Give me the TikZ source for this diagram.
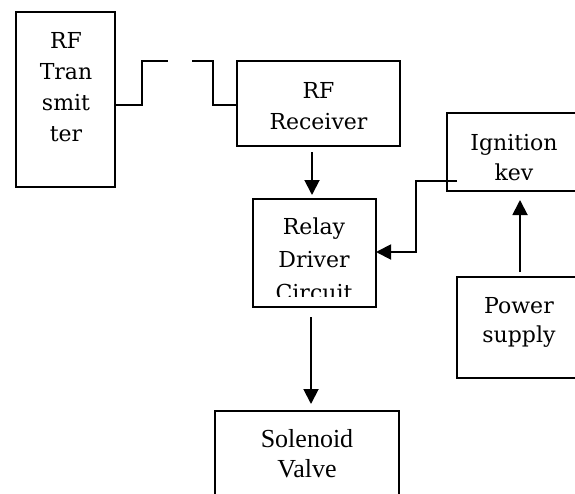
\documentclass[tikz,border=0pt]{standalone}
\usepackage{fontspec}
\setmainfont{Liberation Serif}
\newfontfamily\camfont{DejaVu Serif}
\usetikzlibrary{arrows.meta,calc}
\tikzset{
  blk/.style={draw=black, line width=1.4pt, minimum width=#1, inner sep=0pt, outer sep=0pt},
  lbl/.style={anchor=base, inner sep=0pt, text width=140pt, align=center, font={\camfont\fontsize{22}{#1}\selectfont}},
  arr/.style={line width=1.9pt, -{Triangle[length=15pt,width=15pt]}},
  wire/.style={line width=1.4pt}
}
\begin{document}
\begin{tikzpicture}[x=1pt,y=-1pt]
\useasboundingbox (0,0) rectangle (575,493);
\clip (0,0) rectangle (575,493);
% boxes
\node[blk=99pt, minimum height=175pt] (tx) at (65.5,99.5) {};
\node[blk=163pt, minimum height=85pt] (rx) at (318.5,103.5) {};
\node[blk=123pt, minimum height=108pt] (rly) at (314.5,253) {};
\node[blk=150pt, minimum height=78pt] (ign) at (522,152) {};
\node[blk=140pt, minimum height=101pt] (pw) at (527,327.5) {};
\node[blk=184pt, minimum height=110pt] (sol) at (307,466) {};
% texts
\node[lbl=31.3pt] (txt) at (66,48) {RF\\Tran\\smit\\ter};
\node[lbl=31pt] (rxt) at (318.5,98) {RF\\Receiver};
\begin{scope}
\clip (253,199) rectangle (376,296);
\node[lbl=33pt] (rlyt) at (314,234) {Relay\\Driver\\Circuit};
\end{scope}
\node[lbl=30pt] (ignt) at (514,150) {Ignition\\kev};
\node[lbl=29pt] (pwt) at (519,313) {Power\\supply};
\node[anchor=base, inner sep=0pt, text width=180pt, align=center, font={\fontsize{26}{30}\selectfont}] (solt) at (307,447) {Solenoid\\Valve};
% antenna wires
\coordinate (a1) at (168,61);
\coordinate (a2) at (192,61);
\draw[wire] ([yshift=-5.5pt]tx.east) -- ++(27,0) |- (a1);
\draw[wire] (a2) -- (213,61) |- ([yshift=-1.5pt]rx.west);
% arrows
\draw[arr] ($(rx.south)+(-6.5,6)$) -- ($(rly.north)+(-2.5,-4)$);
\draw[arr] ($(rly.south)+(-3.5,10)$) -- ($(sol.north)+(4,-7)$);
\draw[arr] ($(ign.south west)+(10,-10)$) -- ++(-41,0) |- ([yshift=1pt]rly.east);
\draw[arr] ($(pw.north west)+(63,-5)$) -- ($(ign.south west)+(73,9)$);
\end{tikzpicture}
\end{document}
